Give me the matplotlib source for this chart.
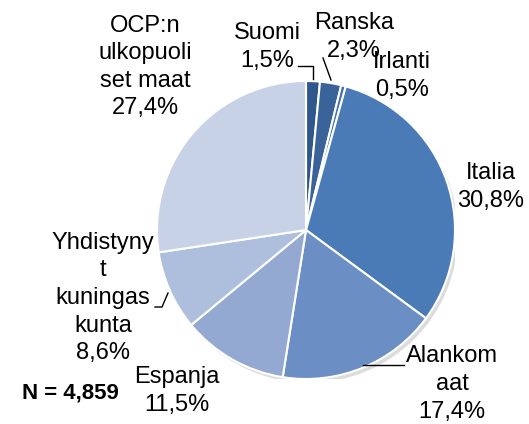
import matplotlib
matplotlib.use("Agg")
import matplotlib.pyplot as plt
from matplotlib.patches import Circle

plt.rcParams['font.family'] = ['Liberation Sans', 'DejaVu Sans']

labels = ["Suomi", "Ranska", "Irlanti", "Italia", "Alankom\naat",
          "Espanja", "Yhdistyny\nt\nkuningas\nkunta", "OCP:n\nulkopuoli\nset maat"]
values = [1.5, 2.3, 0.5, 30.8, 17.4, 11.5, 8.6, 27.4]
colors = ["#30578c", "#3a6399", "#4470aa", "#4a7bb7", "#6b8fc5",
          "#93a9d1", "#adbfdd", "#c8d2e6"]
n_text = "N = 4,859"

W, H = 529, 424
fig = plt.figure(figsize=(W / 100, H / 100), dpi=100)

cx, cy, r = 306, 230, 149
ax = fig.add_axes([(cx - r) / W, (H - cy - r) / H, 2 * r / W, 2 * r / H])

# faint shadow
ax.add_patch(Circle((0.02, -0.025), 1.0, color="#dcdcdc", zorder=0, lw=0))

wedges, _ = ax.pie(values, colors=colors, startangle=90, counterclock=False,
                   radius=1.0, wedgeprops=dict(edgecolor="white", linewidth=1.5))
ax.set_xlim(-1, 1)
ax.set_ylim(-1, 1)
ax.set_aspect('equal')
ax.axis('off')

def px(x, y):
    return (x / W, 1 - y / H)

fs = 17
label_pos = [(267, 47), (354, 37), (402, 76), (491, 187), (452, 384),
             (177, 391), (103, 298), (145, 67)]
for lab, v, (x, y) in zip(labels, values, label_pos):
    txt = lab + "\n" + f"{v:.1f}".replace(".", ",") + "%"
    fig.text(*px(x, y), txt, ha="center", va="center", fontsize=fs,
             linespacing=1.33, color="black")

fig.text(*px(70, 393), n_text, ha="center", va="center", fontsize=16,
         fontweight="bold")

# leader lines (figure pixel coords)
def line(pts):
    xs = [p[0] / W for p in pts]
    ys = [1 - p[1] / H for p in pts]
    fig.add_artist(plt.Line2D(xs, ys, color="black", lw=1.0))

line([(298, 66), (313, 66), (313, 79)])
line([(323, 58), (331, 80)])
line([(155, 307), (162, 307), (168, 293)])
line([(363, 365), (404, 365)])

fig.savefig("out.png", dpi=100)
